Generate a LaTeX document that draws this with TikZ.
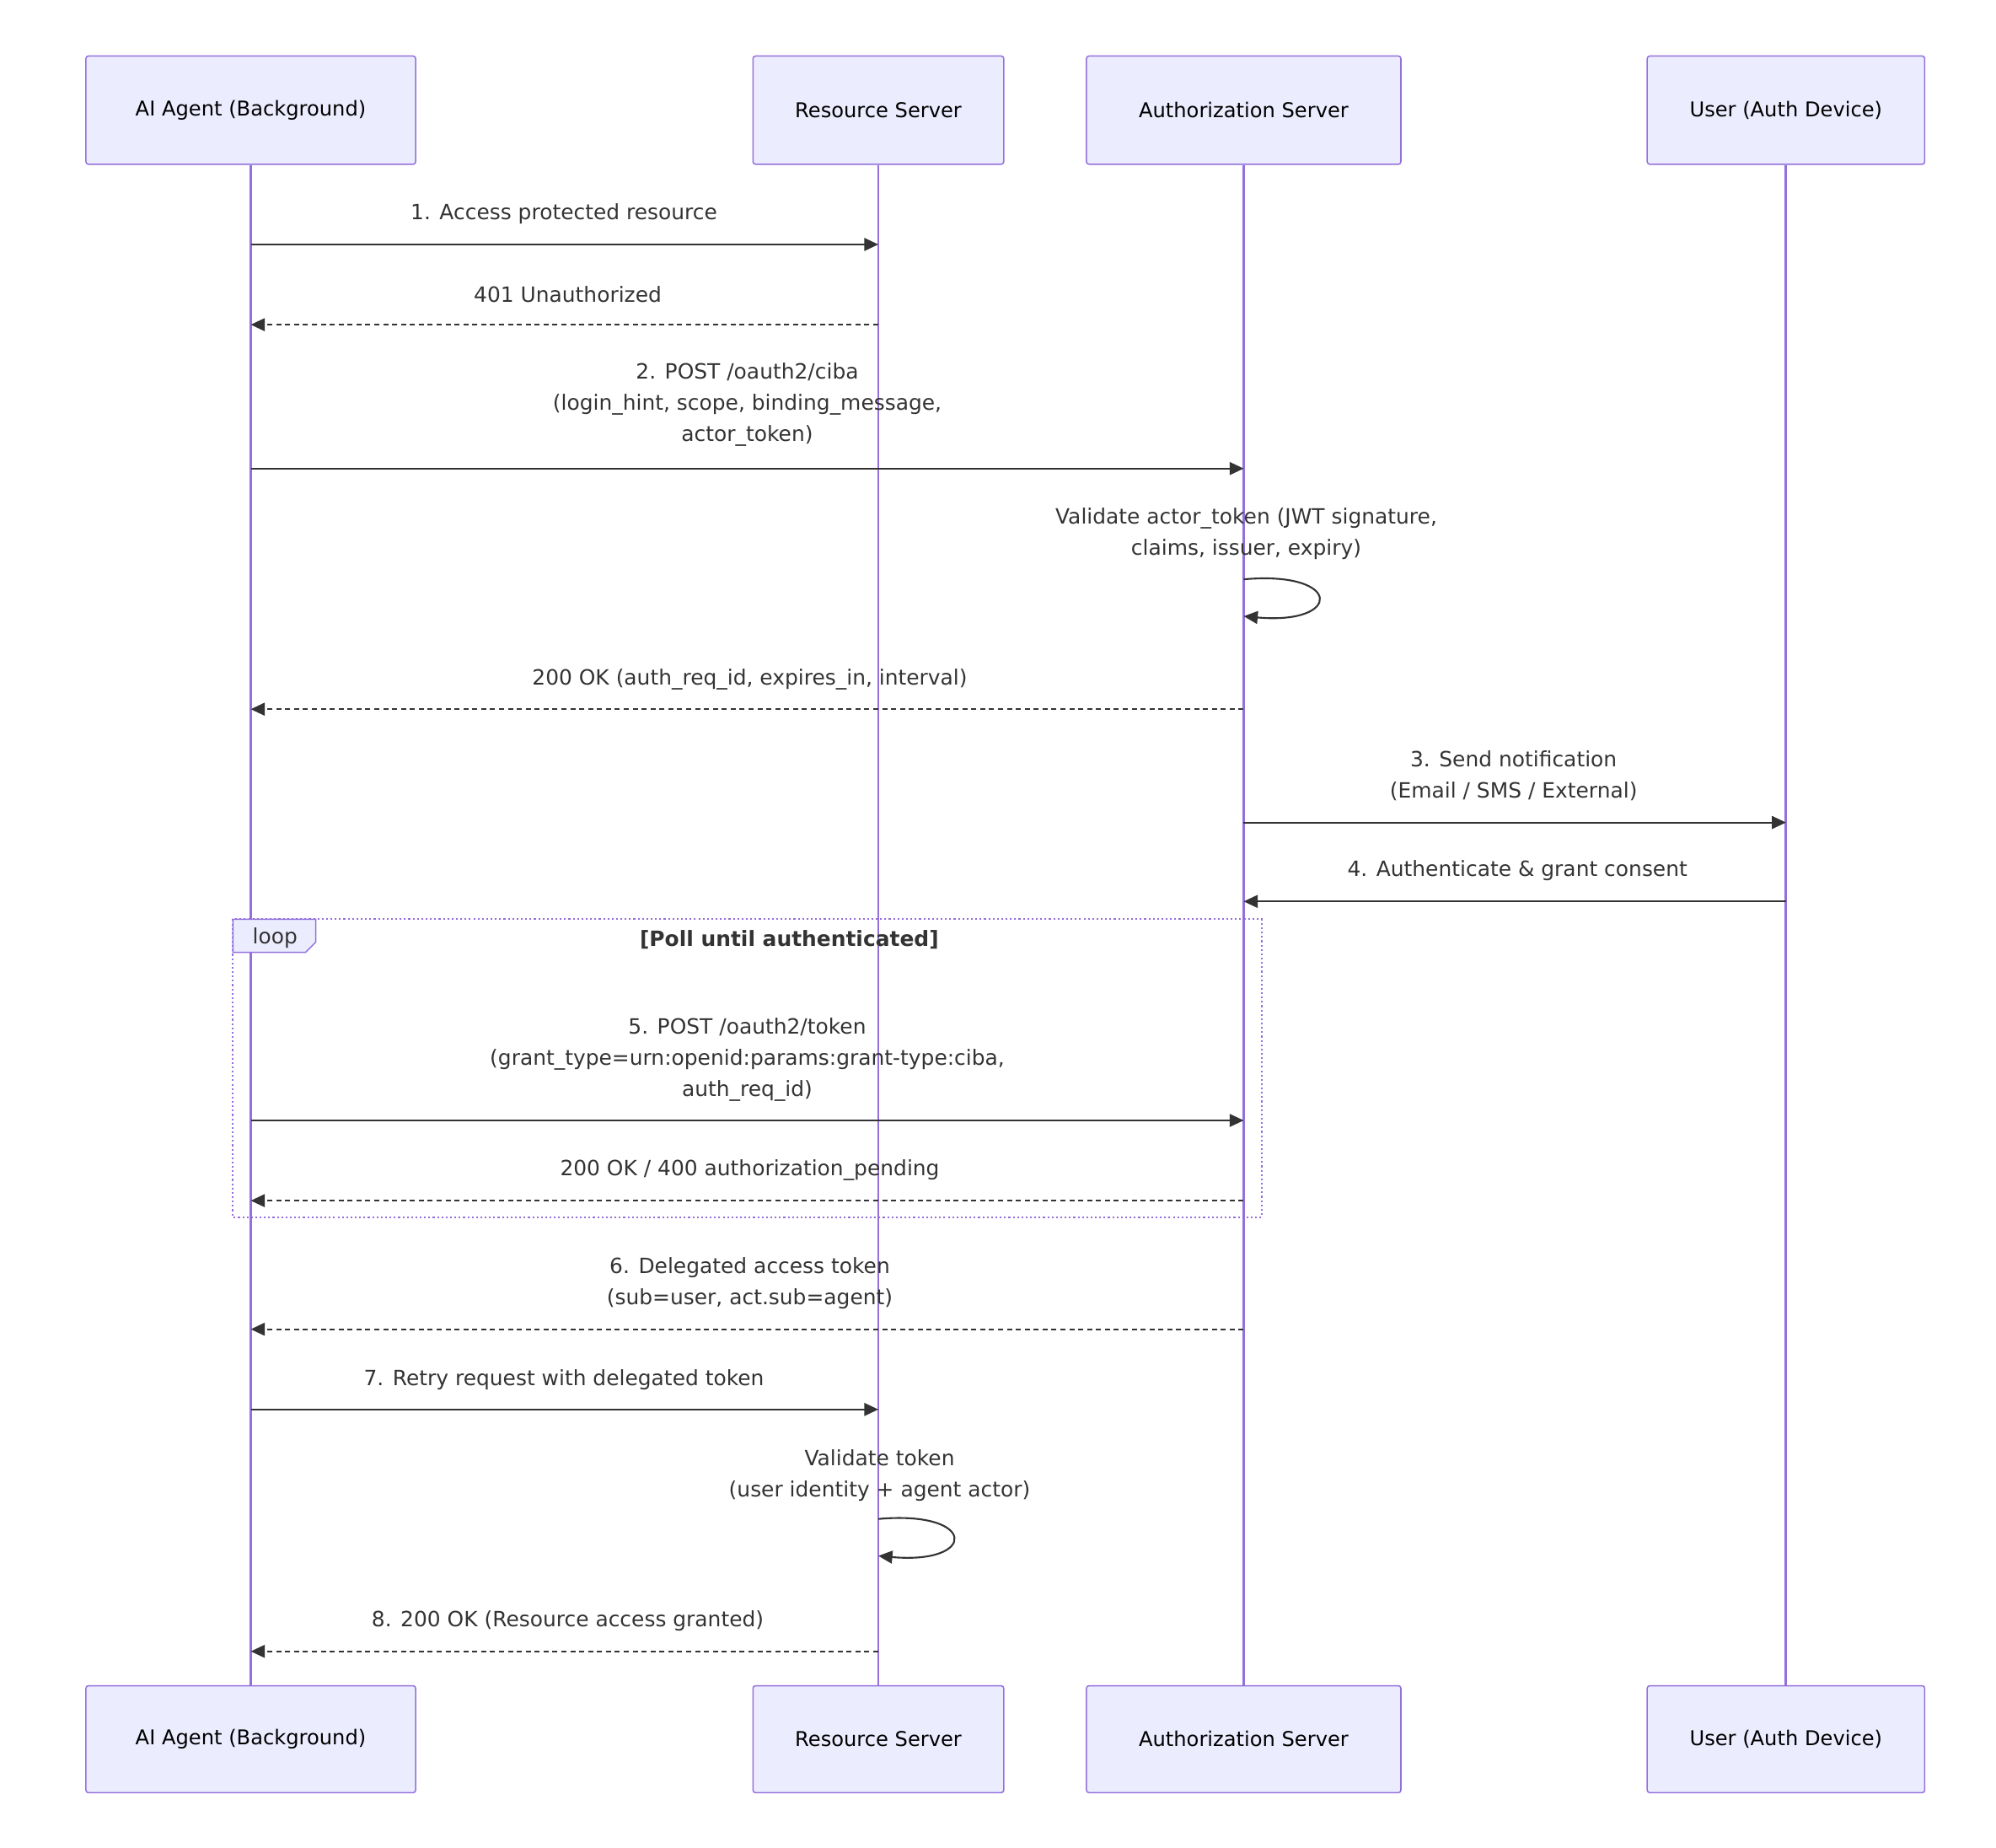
\documentclass[tikz,border=0pt]{standalone}
\usepackage{fontspec}
\setmainfont{DejaVu Sans}
\usetikzlibrary{arrows.meta}
\definecolor{boxfill}{HTML}{ECECFF}
\definecolor{boxline}{HTML}{9370DB}
\definecolor{ink}{HTML}{333333}
\begin{document}
\begin{tikzpicture}[x=1pt,y=-1pt,
  actor/.style={draw=boxline,fill=boxfill,line width=1pt,rounded corners=2pt,font=\fontsize{16}{18}\selectfont},
  life/.style={draw=boxline,line width=1.8pt},
  msg/.style={draw=ink,line width=1.4pt,-{Triangle[length=11pt,width=10pt]}},
  ret/.style={msg,dash pattern=on 4pt off 3pt},
  lbl/.style={font=\fontsize{16.5}{24.5}\selectfont,align=center,text=ink,inner sep=0}]
\useasboundingbox (0,0) rectangle (1568,1451);
% actors
\foreach \n/\x/\w/\t in {a/197/259/AI Agent (Background), r/690/197/Resource Server, s/977/247/Authorization Server, u/1403/218/User (Auth Device)}{
  \node[actor,minimum width=\w,minimum height=85] (\n top) at (\x,86.5) {\t};
  \node[actor,minimum width=\w,minimum height=84] (\n bot) at (\x,1366) {\t};
}
\foreach \n in {a,r,s,u}{\draw[life] (\n top) -- (\n bot);}
% coordinates
\foreach \n/\x in {a/197,r/690,s/977,u/1403}{
  \foreach \i/\y in {1/192,2/255,3/368,4/557,5/646,6/708,7/880,8/943,9/1044,10/1107,11/1297}{
    \coordinate (\n\i) at (\x,\y);}}
\draw[msg] (a1) -- (r1); \node[lbl] (l1) at (443,168) {1. Access protected resource};
\draw[ret] (r2) -- (a2); \node[lbl] (l2) at (446,231) {401 Unauthorized};
\draw[msg] (a3) -- (s3); \node[lbl] (l3) at (587,318) {2. POST /oauth2/ciba\\(login\_hint, scope, binding\_message,\\actor\_token)};
\node[lbl] (l3b) at (979,419) {Validate actor\_token (JWT signature,\\claims, issuer, expiry)};
\coordinate (sl1) at (977,455); \coordinate (sl2) at (977,484);
\draw[msg] (sl1) .. controls (1055,448) and (1055,491) .. (sl2);
\draw[ret] (s4) -- (a4); \node[lbl] (l4) at (589,534) {200 OK (auth\_req\_id, expires\_in, interval)};
\draw[msg] (s5) -- (u5); \node[lbl] (l5) at (1189,609) {3. Send notification\\(Email / SMS / External)};
\draw[msg] (u6) -- (s6); \node[lbl] (l6) at (1192,684) {4. Authenticate \& grant consent};
% loop
\draw[boxline,line width=1.4pt,dotted] (183,722) rectangle (991,956);
\draw[boxline,fill=boxfill,line width=1pt] (183,722) -- (248,722) -- (248,740) -- (240,748) -- (183,748) -- cycle;
\node[lbl] (lp) at (216,737) {loop};
\node[lbl,font=\fontsize{16.5}{18}\selectfont\bfseries] (lpt) at (620,738) {[Poll until authenticated]};
\draw[msg] (a7) -- (s7); \node[lbl] (l7) at (587,832) {5. POST /oauth2/token\\(grant\_type=urn:openid:params:grant-type:ciba,\\auth\_req\_id)};
\draw[ret] (s8) -- (a8); \node[lbl] (l8) at (589,919) {200 OK / 400 authorization\_pending};
\draw[ret] (s9) -- (a9); \node[lbl] (l9) at (589,1008) {6. Delegated access token\\(sub=user, act.sub=agent)};
\draw[msg] (a10) -- (r10); \node[lbl] (l10) at (443,1084) {7. Retry request with delegated token};
\node[lbl] (l10b) at (691,1159) {Validate token\\(user identity + agent actor)};
\coordinate (rl1) at (690,1193); \coordinate (rl2) at (690,1222);
\draw[msg] (rl1) .. controls (768,1186) and (768,1229) .. (rl2);
\draw[ret] (r11) -- (a11); \node[lbl] (l11) at (446,1273) {8. 200 OK (Resource access granted)};
\end{tikzpicture}
\end{document}
